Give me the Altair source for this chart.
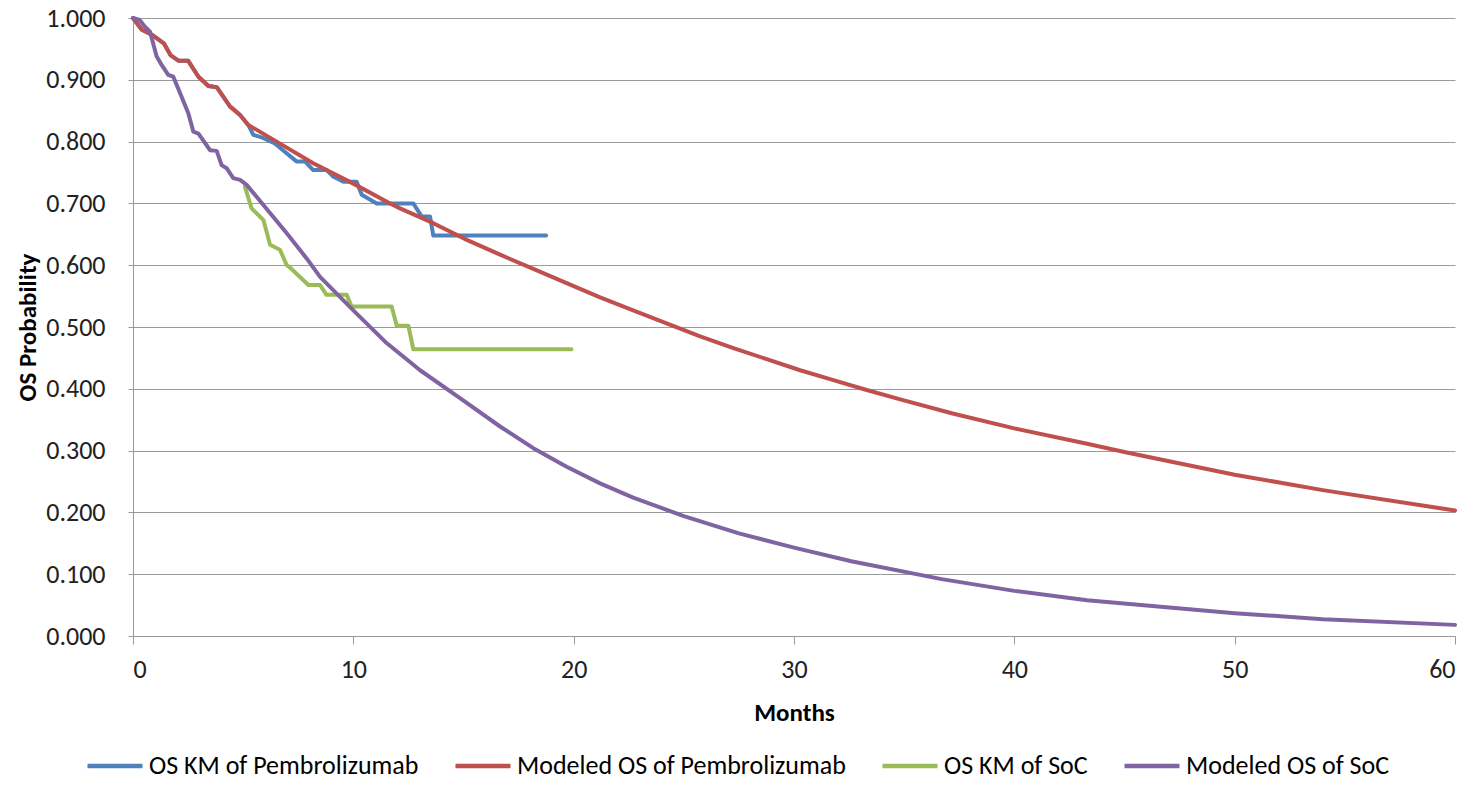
import altair as alt
import pandas as pd

# ---- data ----
km_pem_x = [0, 0.4, 0.9, 1.4, 1.7, 2.06, 2.5, 2.97, 3.42, 3.8, 4.4, 4.86, 5.23, 5.46, 5.9, 6.44,
            6.97, 7.42, 7.8, 8.18, 8.79, 9.1, 9.55, 10.15, 10.38, 11.06, 12.72, 13.1, 13.48, 13.63, 18.75]
km_pem_y = [1.0, 0.981, 0.972, 0.959, 0.940, 0.931, 0.931, 0.905, 0.890, 0.888, 0.857, 0.843, 0.827, 0.811, 0.806, 0.797,
            0.781, 0.768, 0.768, 0.754, 0.754, 0.743, 0.735, 0.735, 0.714, 0.700, 0.700, 0.679, 0.679, 0.648, 0.648]

mod_pem_x = [0, 0.4, 0.9, 1.4, 1.7, 2.06, 2.5, 2.97, 3.42, 3.8, 4.4, 4.86, 5.23, 6.52, 8.18, 10.0, 11.67,
             12.12, 13.63, 15.15, 16.66, 18.17, 19.68, 21.2, 22.7, 24.22, 25.74, 27.25, 28.76, 30.28, 31.79,
             33.3, 34.82, 37.2, 40, 43.3, 45.1, 50, 54, 60]
mod_pem_y = [1.0, 0.981, 0.972, 0.959, 0.940, 0.931, 0.931, 0.905, 0.890, 0.888, 0.857, 0.843, 0.827, 0.800, 0.765, 0.732, 0.700,
             0.692, 0.668, 0.641, 0.617, 0.594, 0.571, 0.548, 0.527, 0.506, 0.485, 0.466, 0.448, 0.430, 0.414,
             0.398, 0.383, 0.360, 0.336, 0.311, 0.297, 0.261, 0.236, 0.203]

km_soc_x = [5.08, 5.38, 5.92, 6.22, 6.67, 6.98, 7.1, 7.96, 8.49, 8.78, 9.7, 9.92, 11.74, 11.97, 12.5, 12.72, 19.9]
km_soc_y = [0.727, 0.692, 0.673, 0.633, 0.625, 0.600, 0.597, 0.568, 0.568, 0.552, 0.552, 0.533, 0.533, 0.502, 0.502, 0.464, 0.464]

mod_soc_x = [0, 0.3, 0.54, 0.77, 1.07, 1.3, 1.6, 1.83, 2.2, 2.51, 2.74, 2.97, 3.5, 3.8, 4.02, 4.25, 4.55, 4.86,
             5.16, 6.97, 7.88, 8.49, 10.0, 11.51, 13.03, 14.84, 16.66, 18.17, 19.68, 21.2, 22.7, 25, 27.5, 30,
             32.6, 36.7, 40, 43.3, 50, 54, 60]
mod_soc_y = [1.0, 0.997, 0.986, 0.978, 0.938, 0.924, 0.908, 0.905, 0.873, 0.846, 0.816, 0.813, 0.786, 0.785, 0.762, 0.757, 0.741, 0.738,
             0.730, 0.652, 0.611, 0.581, 0.527, 0.474, 0.430, 0.385, 0.339, 0.304, 0.274, 0.247, 0.224, 0.194, 0.166, 0.143,
             0.121, 0.092, 0.073, 0.058, 0.037, 0.027, 0.018]

series_names = ["OS KM of Pembrolizumab", "Modeled OS of Pembrolizumab", "OS KM of SoC", "Modeled OS of SoC"]
series_colors = ["#4F81BD", "#C0504D", "#9BBB59", "#8064A2"]
x_ticks = [0, 10, 20, 30, 40, 50, 60]
y_ticks = [0.0, 0.1, 0.2, 0.3, 0.4, 0.5, 0.6, 0.7, 0.8, 0.9, 1.0]

rows = []
for name, xs, ys in zip(series_names,
                        [km_pem_x, mod_pem_x, km_soc_x, mod_soc_x],
                        [km_pem_y, mod_pem_y, km_soc_y, mod_soc_y]):
    for i, (a, b) in enumerate(zip(xs, ys)):
        rows.append({"series": name, "month": a, "os": b, "idx": i})
df = pd.DataFrame(rows)

FONT = "Carlito, Lato, sans-serif"
GRAY = "#9A9A9A"

color = alt.Color(
    "series:N",
    scale=alt.Scale(domain=series_names, range=series_colors),
    legend=alt.Legend(
        title=None, orient="none", direction="horizontal", columns=4,
        legendX=-48, legendY=718,
        symbolType="stroke", symbolSize=3025, symbolStrokeWidth=4.5,
        labelFont=FONT, labelFontSize=26, labelColor="#000000",
        labelOffset=4, columnPadding=27, labelLimit=600,
    ),
)

base = alt.Chart(df).mark_line(strokeWidth=4, strokeJoin="round", strokeCap="round").encode(
    x=alt.X("month:Q", scale=alt.Scale(domain=[0, 60], nice=False),
            axis=alt.Axis(title="Months", values=x_ticks, grid=False, format="d",
                          labelFont=FONT, labelFontSize=26, labelColor="#222222", labelPadding=12,
                          tickSize=8, tickColor=GRAY, domainColor=GRAY,
                          titleFont=FONT, titleFontSize=25, titleFontWeight="bold", titlePadding=18,
                          titleColor="#000000")),
    y=alt.Y("os:Q", scale=alt.Scale(domain=[0, 1], nice=False),
            axis=alt.Axis(title="OS Probability", values=y_ticks, format=".3f", grid=True,
                          gridColor=GRAY, gridWidth=1.2,
                          labelFont=FONT, labelFontSize=26, labelColor="#222222", labelPadding=23,
                          tickSize=5, tickColor=GRAY, domainColor=GRAY,
                          titleFont=FONT, titleFontSize=25, titleFontWeight="bold", titlePadding=5,
                          titleColor="#000000")),
    color=color,
    order=alt.Order("idx:Q"),
)

layers = [base.transform_filter(alt.datum.series == s) for s in series_names]

chart = alt.layer(*layers).properties(
    width=1322, height=618,
    autosize=alt.AutoSizeParams(type="none"),
    padding={"left": 133, "top": 18, "right": 23, "bottom": 160},
    background="white",
).configure_view(stroke=None)

chart.save("out.html", embed_options={"renderer": "svg", "actions": False})
